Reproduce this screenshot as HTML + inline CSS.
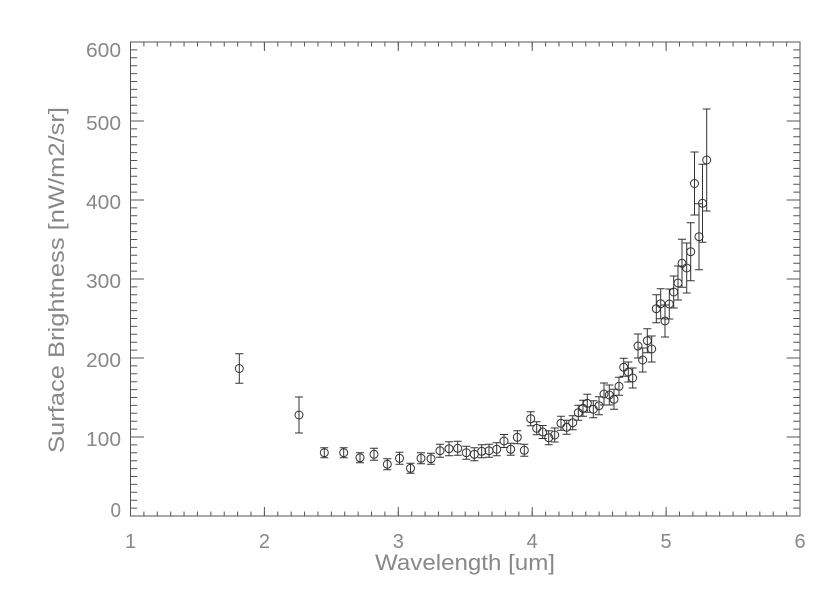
<!DOCTYPE html>
<html>
<head>
<meta charset="utf-8">
<style>
html,body{margin:0;padding:0;background:#fff;}
svg{display:block;}
text{font-family:"Liberation Sans",sans-serif;fill:#888;}
</style>
</head>
<body>
<svg width="840" height="600" viewBox="0 0 840 600" xmlns="http://www.w3.org/2000/svg">
<rect width="840" height="600" fill="#fff"/>
<rect x="130.5" y="42" width="669.5" height="474" fill="none" stroke="#555" stroke-width="1"/>
<g stroke="#555" fill="none">
  <line x1="130" y1="513.75" x2="801" y2="513.75" stroke-width="4.5" stroke-dasharray="1 12.39"/>
  <line x1="130" y1="511.5" x2="801" y2="511.5" stroke-width="9" stroke-dasharray="1 132.9"/>
  <line x1="130" y1="44.25" x2="801" y2="44.25" stroke-width="4.5" stroke-dasharray="1 12.39"/>
  <line x1="130" y1="46.5" x2="801" y2="46.5" stroke-width="9" stroke-dasharray="1 132.9"/>
  <line x1="133.85" y1="516.5" x2="133.85" y2="41" stroke-width="6.7" stroke-dasharray="1 6.9"/>
  <line x1="137.2" y1="516.5" x2="137.2" y2="41" stroke-width="13.4" stroke-dasharray="1 78"/>
  <line x1="796.65" y1="516.5" x2="796.65" y2="41" stroke-width="6.7" stroke-dasharray="1 6.9"/>
  <line x1="793.3" y1="516.5" x2="793.3" y2="41" stroke-width="13.4" stroke-dasharray="1 78"/>
</g>
<g font-size="20" text-anchor="end">
  <text x="121" y="57.2" textLength="35" lengthAdjust="spacingAndGlyphs">600</text>
  <text x="121" y="130" textLength="35" lengthAdjust="spacingAndGlyphs">500</text>
  <text x="121" y="209.2" textLength="35" lengthAdjust="spacingAndGlyphs">400</text>
  <text x="121" y="288.2" textLength="35" lengthAdjust="spacingAndGlyphs">300</text>
  <text x="121" y="367.2" textLength="35" lengthAdjust="spacingAndGlyphs">200</text>
  <text x="121" y="446.2" textLength="35" lengthAdjust="spacingAndGlyphs">100</text>
  <text x="121" y="517" textLength="10.5" lengthAdjust="spacingAndGlyphs">0</text>
</g>
<g font-size="20" text-anchor="middle">
  <text x="130.5" y="548">1</text>
  <text x="264.4" y="548">2</text>
  <text x="398.3" y="548">3</text>
  <text x="532.2" y="548">4</text>
  <text x="666.1" y="548">5</text>
  <text x="800" y="548">6</text>
</g>
<text x="465" y="570" font-size="22" text-anchor="middle" textLength="180" lengthAdjust="spacingAndGlyphs">Wavelength [um]</text>
<text transform="translate(64,280) rotate(-90)" x="0" y="0" font-size="22" text-anchor="middle" textLength="346" lengthAdjust="spacingAndGlyphs">Surface Brightness [nW/m2/sr]</text>
<g stroke="#333" fill="none" stroke-width="1">
<path d="M235.3 353.7H243.3M239.3 353.7V383.3M235.3 383.3H243.3 M295 397H303M299 397V433M295 433H303 M320.3 447.7H328.3M324.3 447.7V457.7M320.3 457.7H328.3 M339.7 447.7H347.7M343.7 447.7V457.7M339.7 457.7H347.7 M356 452.7H364M360 452.7V462.7M356 462.7H364 M370 448.3H378M374 448.3V460.3M370 460.3H378 M383.3 458.8H391.3M387.3 458.8V469.8M383.3 469.8H391.3 M395.5 452.3H403.5M399.5 452.3V464.3M395.5 464.3H403.5 M406.5 463.3H414.5M410.5 463.3V473.3M406.5 473.3H414.5 M417 452.8H425M421 452.8V463.8M417 463.8H425 M427 453.2H435M431 453.2V464.2M427 464.2H435 M436 444.2H444M440 444.2V457.2M436 457.2H444 M445 441.7H453M449 441.7V455.7M445 455.7H453 M453.7 441.3H461.7M457.7 441.3V455.3M453.7 455.3H461.7 M462.3 446.2H470.3M466.3 446.2V459.2M462.3 459.2H470.3 M470.3 447.8H478.3M474.3 447.8V460.8M470.3 460.8H478.3 M477.7 444.8H485.7M481.7 444.8V457.8M477.7 457.8H485.7 M485 444.2H493M489 444.2V457.2M485 457.2H493 M492.7 442.8H500.7M496.7 442.8V455.8M492.7 455.8H500.7 M500 434.5H508M504 434.5V447.5M500 447.5H508 M506.7 443.3H514.7M510.7 443.3V455.3M506.7 455.3H514.7 M513.3 430.8H521.3M517.3 430.8V443.8M513.3 443.8H521.3 M520.3 444.3H528.3M524.3 444.3V456.3M520.3 456.3H528.3 M526.7 411.7H534.7M530.7 411.7V425.7M526.7 425.7H534.7 M532.7 421.8H540.7M536.7 421.8V434.8M532.7 434.8H540.7 M538.7 425.5H546.7M542.7 425.5V438.5M538.7 438.5H546.7 M544.7 430.7H552.7M548.7 430.7V444.7M544.7 444.7H552.7 M550.7 428H558.7M554.7 428V442M550.7 442H558.7 M557 416.3H565M561 416.3V430.3M557 430.3H565 M562.7 420.3H570.7M566.7 420.3V434.3M562.7 434.3H570.7 M568.7 415.7H576.7M572.7 415.7V429.7M568.7 429.7H576.7 M574.3 405.2H582.3M578.3 405.2V420.2M574.3 420.2H582.3 M579 400.3H587M583 400.3V416.3M579 416.3H587 M583.3 394.3H591.3M587.3 394.3V412.3M583.3 412.3H591.3 M589.3 400.8H597.3M593.3 400.8V417.8M589.3 417.8H597.3 M595 396.7H603M599 396.7V414.7M595 414.7H603 M600 383H608M604 383V405M600 405H608 M605.3 385H613.3M609.3 385V405M605.3 405H613.3 M610 389.3H618M614 389.3V409.3M610 409.3H618 M615 377.3H623M619 377.3V395.3M615 395.3H623 M619.7 358.3H627.7M623.7 358.3V376.3M619.7 376.3H627.7 M624.3 362H632.3M628.3 362V382M624.3 382H632.3 M628.7 368H636.7M632.7 368V388M628.7 388H636.7 M634 334H642M638 334V358M634 358H642 M638.7 348H646.7M642.7 348V372M638.7 372H646.7 M643.3 328.7H651.3M647.3 328.7V352.7M643.3 352.7H651.3 M647.7 336H655.7M651.7 336V362M647.7 362H655.7 M652.3 294.7H660.3M656.3 294.7V322.7M652.3 322.7H660.3 M656.7 288.7H664.7M660.7 288.7V318.7M656.7 318.7H664.7 M661 305H669M665 305V337M661 337H669 M665.3 289H673.3M669.3 289V319M665.3 319H673.3 M669.7 276H677.7M673.7 276V308M669.7 308H677.7 M674 266H682M678 266V300M674 300H682 M678 239.3H686M682 239.3V287.3M678 287.3H686 M682.7 243H690.7M686.7 243V293M682.7 293H690.7 M686.7 222.7H694.7M690.7 222.7V280.7M686.7 280.7H694.7 M690.5 152H698.5M694.5 152V215M690.5 215H698.5 M695 203.7H703M699 203.7V269.7M695 269.7H703 M698.5 164.3H706.5M702.5 164.3V242.3M698.5 242.3H706.5 M702.7 109H710.7M706.7 109V211M702.7 211H710.7"/>
<circle cx="239.3" cy="368.5" r="4"/>
<circle cx="299" cy="415" r="4"/>
<circle cx="324.3" cy="452.7" r="4"/>
<circle cx="343.7" cy="452.7" r="4"/>
<circle cx="360" cy="457.7" r="4"/>
<circle cx="374" cy="454.3" r="4"/>
<circle cx="387.3" cy="464.3" r="4"/>
<circle cx="399.5" cy="458.3" r="4"/>
<circle cx="410.5" cy="468.3" r="4"/>
<circle cx="421" cy="458.3" r="4"/>
<circle cx="431" cy="458.7" r="4"/>
<circle cx="440" cy="450.7" r="4"/>
<circle cx="449" cy="448.7" r="4"/>
<circle cx="457.7" cy="448.3" r="4"/>
<circle cx="466.3" cy="452.7" r="4"/>
<circle cx="474.3" cy="454.3" r="4"/>
<circle cx="481.7" cy="451.3" r="4"/>
<circle cx="489" cy="450.7" r="4"/>
<circle cx="496.7" cy="449.3" r="4"/>
<circle cx="504" cy="441" r="4"/>
<circle cx="510.7" cy="449.3" r="4"/>
<circle cx="517.3" cy="437.3" r="4"/>
<circle cx="524.3" cy="450.3" r="4"/>
<circle cx="530.7" cy="418.7" r="4"/>
<circle cx="536.7" cy="428.3" r="4"/>
<circle cx="542.7" cy="432" r="4"/>
<circle cx="548.7" cy="437.7" r="4"/>
<circle cx="554.7" cy="435" r="4"/>
<circle cx="561" cy="423.3" r="4"/>
<circle cx="566.7" cy="427.3" r="4"/>
<circle cx="572.7" cy="422.7" r="4"/>
<circle cx="578.3" cy="412.7" r="4"/>
<circle cx="583" cy="408.3" r="4"/>
<circle cx="587.3" cy="403.3" r="4"/>
<circle cx="593.3" cy="409.3" r="4"/>
<circle cx="599" cy="405.7" r="4"/>
<circle cx="604" cy="394" r="4"/>
<circle cx="609.3" cy="395" r="4"/>
<circle cx="614" cy="399.3" r="4"/>
<circle cx="619" cy="386.3" r="4"/>
<circle cx="623.7" cy="367.3" r="4"/>
<circle cx="628.3" cy="372" r="4"/>
<circle cx="632.7" cy="378" r="4"/>
<circle cx="638" cy="346" r="4"/>
<circle cx="642.7" cy="360" r="4"/>
<circle cx="647.3" cy="340.7" r="4"/>
<circle cx="651.7" cy="349" r="4"/>
<circle cx="656.3" cy="308.7" r="4"/>
<circle cx="660.7" cy="303.7" r="4"/>
<circle cx="665" cy="321" r="4"/>
<circle cx="669.3" cy="304" r="4"/>
<circle cx="673.7" cy="292" r="4"/>
<circle cx="678" cy="283" r="4"/>
<circle cx="682" cy="263.3" r="4"/>
<circle cx="686.7" cy="268" r="4"/>
<circle cx="690.7" cy="251.7" r="4"/>
<circle cx="694.5" cy="183.5" r="4"/>
<circle cx="699" cy="236.7" r="4"/>
<circle cx="702.5" cy="203.3" r="4"/>
<circle cx="706.7" cy="160" r="4"/>
</g>
</svg>
</body>
</html>
